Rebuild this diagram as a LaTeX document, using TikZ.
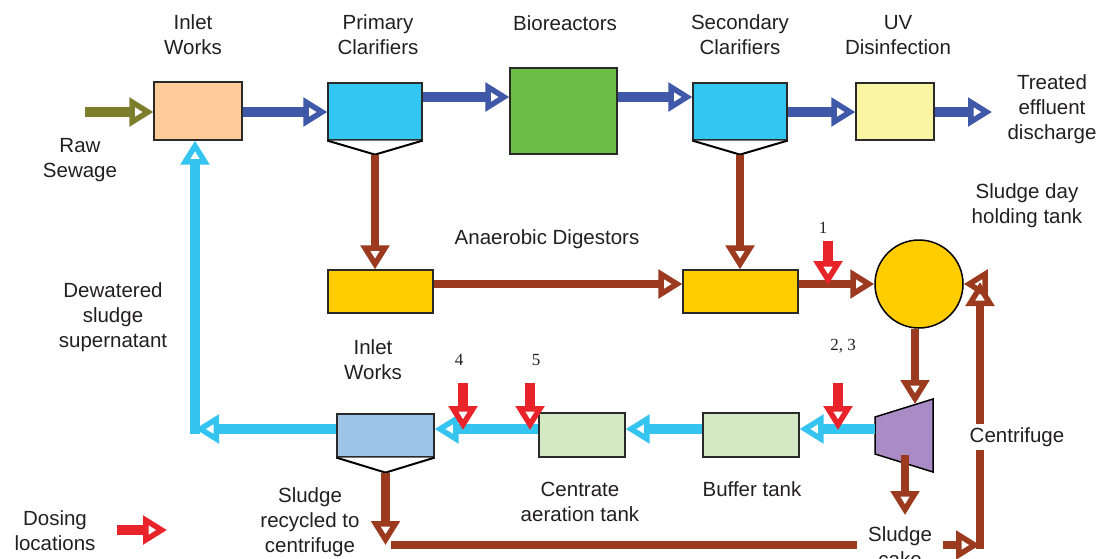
\documentclass[tikz,border=0pt]{standalone}
\usepackage{fontspec}
\setmainfont{Liberation Sans}
\newfontfamily\numfont{Liberation Serif}
\usetikzlibrary{arrows.meta,calc}

\definecolor{peach}{HTML}{FFCC99}
\definecolor{clarblue}{HTML}{33C6F2}
\definecolor{biogreen}{HTML}{6BBD46}
\definecolor{uvyellow}{HTML}{FAF5A2}
\definecolor{gold}{HTML}{FFCC00}
\definecolor{lilac}{HTML}{A98BC6}
\definecolor{palegreen}{HTML}{D5E8C4}
\definecolor{iwblue}{HTML}{9DC3E6}
\definecolor{flowblue}{HTML}{3F58A8}
\definecolor{flowcyan}{HTML}{35C3F0}
\definecolor{sludge}{HTML}{9C3A1F}
\definecolor{dosered}{HTML}{E8232A}
\definecolor{olive}{HTML}{7D7D2B}
\definecolor{txt}{HTML}{231F20}
\definecolor{boxline}{HTML}{2A2A2A}

\tikzset{
  ft/.tip={Triangle[open, length=24pt, width=28pt, line width=5.5pt]},
  box/.style={draw=boxline, line width=1.2pt, inner sep=0pt},
  lbl/.style={font=\fontsize{20.5}{25}\selectfont, align=center, text=txt, inner sep=0pt},
  num/.style={font=\numfont\fontsize{17}{20}\selectfont, text=txt, inner sep=0pt},
  flow/.style={line width=10pt, -ft},
  blueflow/.style={flow, draw=flowblue},
  cyanflow/.style={flow, draw=flowcyan},
  brownflow/.style={flow, line width=8.5pt, draw=sludge},
  brownline/.style={line width=8.5pt, draw=sludge},
  dose/.style={flow, line width=10pt, draw=dosered},
  hopper/.style={draw=black, line width=2pt, fill=white},
}

\begin{document}
\begin{tikzpicture}[x=1pt, y=-1pt]
\useasboundingbox (0,0) rectangle (1106,558);

% ---- main treatment train ----
\node[box, fill=peach,    minimum width=88pt,  minimum height=58pt] (inlet)     at (198,111)   {};
\node[box, fill=clarblue, minimum width=94pt,  minimum height=57pt] (primary)   at (375,111.5) {};
\node[box, fill=biogreen, minimum width=107pt, minimum height=86pt] (bio)       at (563.5,111) {};
\node[box, fill=clarblue, minimum width=94pt,  minimum height=57pt] (secondary) at (740,111.5) {};
\node[box, fill=uvyellow, minimum width=78pt,  minimum height=57pt] (uv)        at (895,111.5) {};

% clarifier hoppers
\coordinate (phop) at ($(primary.south)+(0,14)$);
\coordinate (shop) at ($(secondary.south)+(0,14)$);
\draw[hopper] (primary.south west) -- (phop) -- (primary.south east);
\draw[hopper] (secondary.south west) -- (shop) -- (secondary.south east);

% ---- digestion ----
\node[box, fill=gold, minimum width=105pt, minimum height=43pt] (dig1) at (380.5,291.5) {};
\node[box, fill=gold, minimum width=115pt, minimum height=43pt] (dig2) at (740.5,291.5) {};
\node[circle, draw=black, line width=1.5pt, fill=gold, minimum size=88pt, inner sep=0pt] (tank) at (919,284) {};

% ---- centrate line ----
\node[box, fill=palegreen, minimum width=96pt, minimum height=44pt] (buffer)   at (751,435)   {};
\node[box, fill=palegreen, minimum width=86pt, minimum height=44pt] (centrate) at (582,435)   {};
\node[box, fill=iwblue,    minimum width=97pt, minimum height=43pt] (iw2)      at (385.5,435.5) {};
\coordinate (ihop) at ($(iw2.south)+(0,15)$);
\draw[hopper] (iw2.south west) -- (ihop) -- (iw2.south east);

% centrifuge
\draw[draw=black, line width=1.5pt, fill=lilac] (875,417) -- (933,399) -- (933,472) -- (875,454) -- cycle;
\coordinate (cfL) at (875,429);
\coordinate (cfT) at (915,404);
\coordinate (cfB) at (905,455);

% ---- flows: liquid ----
\draw[draw=olive, flow] (85,112) -- (inlet.west |- 0,112);
\draw[blueflow] (inlet.east |- 0,112) -- (primary.west |- 0,112);
\draw[blueflow] (primary.east |- 0,97) -- (bio.west |- 0,97);
\draw[blueflow] (bio.east |- 0,97) -- (secondary.west |- 0,97);
\draw[blueflow] (secondary.east |- 0,112) -- (uv.west |- 0,112);
\coordinate (outfall) at (992,112);
\draw[blueflow] (uv.east |- 0,112) -- (outfall);

% ---- flows: sludge ----
\draw[brownflow] (phop) -- (phop |- dig1.north);
\draw[brownflow] (shop) -- (shop |- dig2.north);
\draw[brownflow] (dig1.east |- tank.center) -- (dig2.west |- tank.center);
\draw[brownflow] (dig2.east |- tank.center) -- (tank.west);
\draw[brownflow] (tank.south -| cfT) -- (cfT);
\coordinate (cake) at (905,515);
\draw[brownflow] (cfB) -- (cake);

\coordinate (riserB) at (980,549);
\coordinate (riserT) at (980,282);
\coordinate (cakeL) at (943,545);
\coordinate (cakeR) at (980,545);
\draw[brownline] (riserB) -- ($(riserT)+(0,24)$);
\draw[brownflow] ($(riserT)+(0,26)$) -- (riserT);
\draw[brownflow] (988,284) -- (tank.east);
\draw[brownflow] (ihop) -- (ihop |- cakeL);
\draw[brownline] ($(ihop |- cakeL)+(5,0)$) -- (857,545);
\draw[brownflow] (cakeL) -- (cakeR);

% ---- flows: centrate return ----
\coordinate (cy) at (0,429);
\coordinate (ret) at (195,429);
\draw[cyanflow] (cfL) -- (buffer.east |- cy);
\draw[cyanflow] (buffer.west |- cy) -- (centrate.east |- cy);
\draw[cyanflow] (centrate.west |- cy) -- (iw2.east |- cy);
\draw[cyanflow] (iw2.west |- cy) -- (ret);
\draw[cyanflow] ($(ret)+(0,5)$) -- (ret |- inlet.south);

% ---- dosing points ----
\coordinate (d1) at (828,285);   \coordinate (d1t) at (828,241);
\coordinate (d23) at (838,430);  \coordinate (d23t) at (838,383);
\coordinate (d4) at (463,430);   \coordinate (d4t) at (463,383);
\coordinate (d5) at (530,430);   \coordinate (d5t) at (530,383);
\draw[dose] (d1t) -- (d1);
\draw[dose] (d23t) -- (d23);
\draw[dose] (d4t) -- (d4);
\draw[dose] (d5t) -- (d5);
\coordinate (legA) at (117,530); \coordinate (legB) at (167,530);
\draw[dose] (legA) -- (legB);

\node[num] (n1)  at (823,228) {1};
\node[num] (n23) at (843,346) {2, 3};
\node[num] (n4)  at (459,360) {4};
\node[num] (n5)  at (536,360) {5};

% ---- labels ----
\node[lbl] (tInlet)   at (193,35)  {Inlet\\Works};
\node[lbl] (tPrim)    at (378,35)  {Primary\\Clarifiers};
\node[lbl] (tBio)     at (565,23)  {Bioreactors};
\node[lbl] (tSec)     at (740,35)  {Secondary\\Clarifiers};
\node[lbl] (tUV)      at (898,35)  {UV\\Disinfection};
\node[lbl] (tOut)     at (1052,109) {Treated\\effluent\\discharge};
\node[lbl] (tRaw)     at (80,160)  {Raw\\Sewage};
\node[lbl] (tTank)    at (1027,206) {Sludge day\\holding tank};
\node[lbl] (tAD)      at (547,239) {Anaerobic Digestors};
\node[lbl] (tSuper)   at (113,317) {Dewatered\\sludge\\supernatant};
\node[lbl] (tIW2)     at (373,360) {Inlet\\Works};
\node[lbl, fill=white, inner sep=3pt] (tCf) at (1017,437) {Centrifuge};
\node[lbl] (tCentr)   at (580,502) {Centrate\\aeration tank};
\node[lbl] (tBuf)     at (752,489) {Buffer tank};
\node[lbl] (tRecyc)   at (310,522) {Sludge\\recycled to\\centrifuge};
\node[lbl] (tCake)    at (900,547) {Sludge\\cake};
\node[lbl] (tDose)    at (55,531)  {Dosing\\locations};
\end{tikzpicture}
\end{document}
